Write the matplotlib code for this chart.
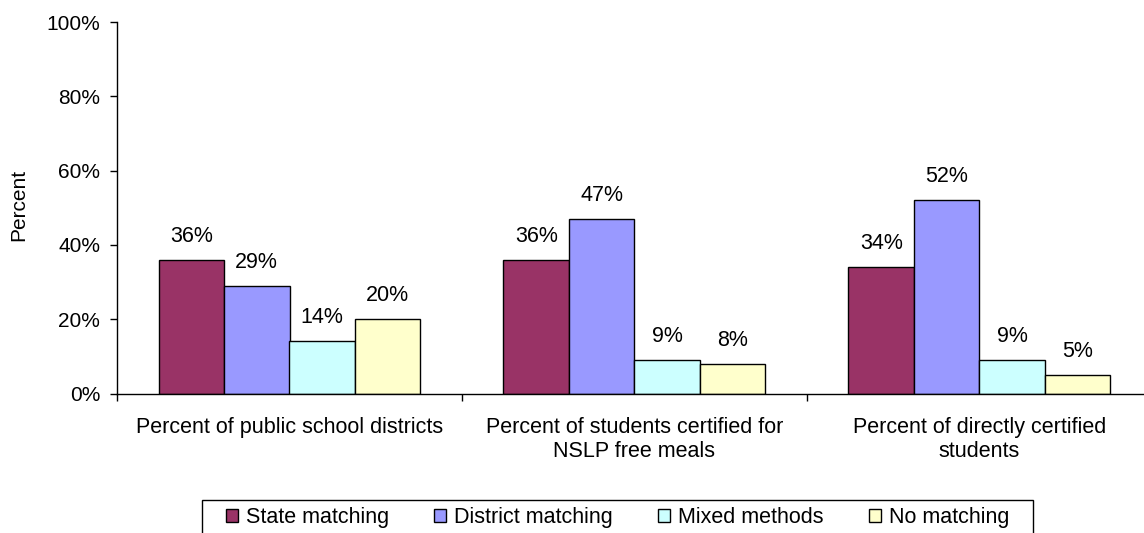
import numpy as np
import matplotlib
matplotlib.use("Agg")
import matplotlib.pyplot as plt
import matplotlib.ticker as mticker
from matplotlib.patches import Patch, Rectangle

plt.rcParams["font.family"] = ["Liberation Sans", "DejaVu Sans"]

# Data
categories = [
    "Percent of public school districts",
    "Percent of students certified for\nNSLP free meals",
    "Percent of directly certified\nstudents",
]
series_names = ["State matching", "District matching", "Mixed methods", "No matching"]
state_matching = [36, 36, 34]
district_matching = [29, 47, 52]
mixed_methods = [14, 9, 9]
no_matching = [20, 8, 5]

COLORS = ["#993366", "#9999FF", "#CCFFFF", "#FFFFCC"]
FS = 15.5
W, H = 1144, 533

fig = plt.figure(figsize=(W / 100, H / 100), dpi=100)
fig.patch.set_facecolor("white")
ax = fig.add_axes([117 / W, 1 - 393.5 / H, 1035 / W, 371.5 / H])

series = [state_matching, district_matching, mixed_methods, no_matching]
bar_w = 65.5 / 345
x = np.arange(len(categories)) + 0.5

for i, (name, vals, col) in enumerate(zip(series_names, series, COLORS)):
    pos = x + (i - 1.5) * bar_w
    bars = ax.bar(pos, vals, width=bar_w, color=col, edgecolor="black",
                  linewidth=1.0, label=name)
    for b, v in zip(bars, vals):
        ax.annotate(f"{v}%", (b.get_x() + b.get_width() / 2, v),
                    xytext=(0, 13), textcoords="offset points",
                    ha="center", va="baseline", fontsize=FS)

# Axes
ax.set_xlim(0, 3)
ax.set_ylim(0, 100)
ax.yaxis.set_major_locator(mticker.MultipleLocator(20))
ax.yaxis.set_major_formatter(mticker.PercentFormatter(decimals=0))
ax.tick_params(axis="y", direction="out", length=5, width=1, labelsize=15, pad=7)

ax.set_xticks(x)
ax.set_xticklabels(categories, fontsize=FS)
ax.set_xticks([0, 1, 2, 3], minor=True)
ax.tick_params(axis="x", which="major", length=0, pad=17)
ax.tick_params(axis="x", which="minor", direction="out", length=5, width=1)

for s in ["top", "right"]:
    ax.spines[s].set_visible(False)
ax.spines["left"].set_linewidth(1)
ax.spines["bottom"].set_linewidth(1)

fig.text(19 / W, 1 - 205 / H, "Percent", rotation=90, ha="center",
         va="center", fontsize=15)

# Legend: entries without frame, box drawn separately so it runs off the bottom
handles = [Patch(facecolor=c, edgecolor="black", linewidth=1) for c in COLORS]
leg = fig.legend(handles, series_names, loc="upper left",
                 bbox_to_anchor=(226 / W, 1 - 507 / H),
                 ncol=4, fontsize=FS, frameon=False, borderaxespad=0,
                 borderpad=0, handlelength=0.56, handleheight=0.56,
                 handletextpad=0.37, columnspacing=2.1)

fig.canvas.draw()
bb = leg.get_window_extent()
right = bb.x1 + 24
fig.patches.append(Rectangle((202 / W, -0.05), (right - 202) / W,
                             1 - 500.5 / H + 0.05, transform=fig.transFigure,
                             facecolor="none", edgecolor="black",
                             linewidth=1, zorder=5))

fig.savefig("out.png", dpi=100, facecolor="white")
